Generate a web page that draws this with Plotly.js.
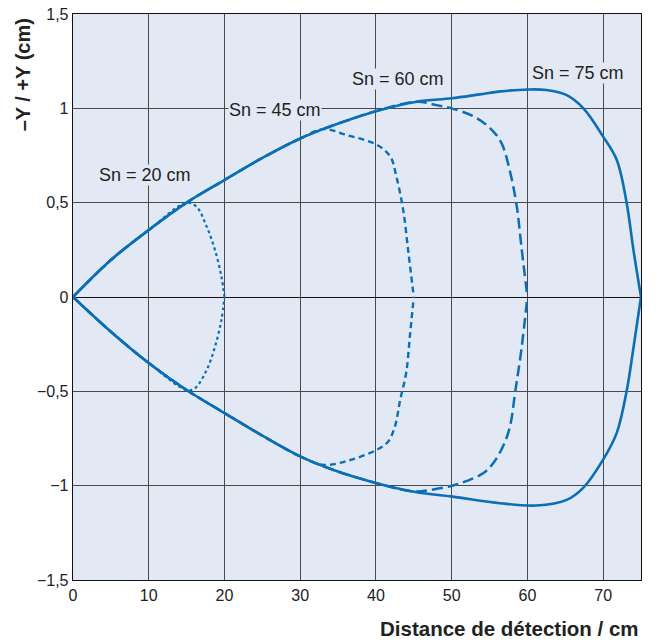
<!DOCTYPE html>
<html>
<head>
<meta charset="utf-8">
<script src="https://cdn.plot.ly/plotly-3.0.1.min.js"></script>
<style>html,body{margin:0;padding:0;background:#fff;}#chart{width:659px;height:642px;}</style>
</head>
<body>
<div id="chart"></div>
<script>
// Sn = 75 cm (solid)
const sn75_upper_x = [0, 5, 10, 15, 20, 25, 30, 33, 36.5, 40, 45.4, 50, 53.7, 56.5, 60.1, 62.5, 65.2, 67.4, 70, 71.8, 73.1, 74, 75];
const sn75_upper_y = [0, 0.196, 0.355, 0.5, 0.62, 0.737, 0.84, 0.89, 0.94, 0.985, 1.035, 1.053, 1.074, 1.09, 1.10, 1.097, 1.07, 1.0, 0.85, 0.726, 0.5, 0.25, 0];
const sn75_lower_x = [0, 5, 10, 15, 20, 25, 30, 34.4, 40.1, 45.4, 50.1, 56.4, 61.2, 65.2, 67.4, 70, 71.8, 73.1, 74, 75];
const sn75_lower_y = [0, -0.184, -0.35, -0.493, -0.615, -0.735, -0.845, -0.917, -0.987, -1.035, -1.058, -1.093, -1.105, -1.075, -1.01, -0.862, -0.72, -0.5, -0.27, 0];
// Sn = 60 cm (long dashes)
const sn60_upper_x = [0, 5, 10, 15, 20, 25, 30, 33, 36.5, 40, 45.4, 48, 50, 52.9, 55.1, 56.6, 57.7, 58.6, 59.2, 60];
const sn60_upper_y = [0, 0.196, 0.355, 0.5, 0.62, 0.737, 0.84, 0.89, 0.94, 0.985, 1.035, 1.017, 1.0, 0.957, 0.894, 0.814, 0.665, 0.48, 0.27, 0];
const sn60_lower_x = [0, 5, 10, 15, 20, 25, 30, 34.4, 40.1, 44.9, 47.6, 50.1, 52, 54.2, 55.5, 56.8, 57.7, 58.4, 59.2, 60];
const sn60_lower_y = [0, -0.184, -0.35, -0.493, -0.615, -0.735, -0.845, -0.917, -0.987, -1.03, -1.02, -1.0, -0.975, -0.933, -0.88, -0.79, -0.686, -0.5, -0.28, 0];
// Sn = 45 cm (short dashes)
const sn45_upper_x = [0, 5, 10, 15, 20, 25, 30, 33, 36.1, 40.1, 41.9, 42.7, 43.6, 44.3, 45];
const sn45_upper_y = [0, 0.196, 0.355, 0.5, 0.62, 0.737, 0.84, 0.89, 0.859, 0.807, 0.744, 0.638, 0.461, 0.232, 0];
const sn45_lower_x = [0, 5, 10, 15, 20, 25, 30, 33.1, 36.6, 40.1, 41.6, 42.5, 43.2, 44.0, 44.5, 45];
const sn45_lower_y = [0, -0.184, -0.35, -0.493, -0.615, -0.735, -0.845, -0.89, -0.864, -0.81, -0.767, -0.687, -0.546, -0.40, -0.2, 0];
// Sn = 20 cm (dotted)
const sn20_upper_x = [0, 5, 10, 15, 16.3, 17.65, 18.75, 19.6, 20];
const sn20_upper_y = [0, 0.196, 0.355, 0.5, 0.479, 0.373, 0.249, 0.108, 0];
const sn20_lower_x = [0, 5, 10, 15, 16.1, 17.65, 18.75, 19.6, 20];
const sn20_lower_y = [0, -0.184, -0.35, -0.493, -0.484, -0.387, -0.263, -0.122, 0];

const curve_labels = ["Sn = 20 cm", "Sn = 45 cm", "Sn = 60 cm", "Sn = 75 cm"];
const label_x = [9.5, 26.7, 42.9, 66.7];
const label_y = [0.646, 0.99, 1.155, 1.187];

const x_tickvals = [0, 10, 20, 30, 40, 50, 60, 70];
const x_ticktext = ["0", "10", "20", "30", "40", "50", "60", "70"];
const y_tickvals = [1.5, 1, 0.5, 0, -0.5, -1, -1.5];
const y_ticktext = ["1,5", "1", "0,5", "0", "\u22120,5", "\u22121", "\u22121,5"];

const C = "#0a6fb5";
const BG = "#e2e9f5";
const FONT = "Liberation Sans, Arial, sans-serif";
function tr(x, y, dash, w) {
  return {x: x, y: y, type: "scatter", mode: "lines", hoverinfo: "skip",
    line: {color: C, width: w, dash: dash, shape: "spline", smoothing: 1}, showlegend: false};
}
const data = [
  tr(sn20_upper_x, sn20_upper_y, "3px,3px", 2.2),
  tr(sn20_lower_x, sn20_lower_y, "3px,3px", 2.2),
  tr(sn45_upper_x, sn45_upper_y, "6px,4px", 2.4),
  tr(sn45_lower_x, sn45_lower_y, "6px,4px", 2.4),
  tr(sn60_upper_x, sn60_upper_y, "11px,5px", 2.5),
  tr(sn60_lower_x, sn60_lower_y, "11px,5px", 2.5),
  tr(sn75_upper_x, sn75_upper_y, "solid", 2.6),
  tr(sn75_lower_x, sn75_lower_y, "solid", 2.6)
];

const annotations = curve_labels.map((t, i) => ({
  x: label_x[i], y: label_y[i], xref: "x", yref: "y", text: t, showarrow: false,
  font: {family: FONT, size: 18, color: "#222"},
  bgcolor: BG, borderpad: 0
}));
annotations.push({
  xref: "paper", yref: "paper", x: 1.0, y: -0.062, xanchor: "right", yanchor: "top",
  text: "<b>Distance de détection / cm</b>", showarrow: false,
  font: {family: FONT, size: 20.5, color: "#222"}
});
annotations.push({
  xref: "paper", yref: "paper", x: -0.088, y: 0.995, xanchor: "center", yanchor: "top",
  textangle: -90, text: "<b>\u2013Y / +Y (cm)</b>", showarrow: false,
  font: {family: FONT, size: 20, color: "#222"}
});

const layout = {
  width: 659, height: 642,
  margin: {l: 73, r: 18, t: 14, b: 62},
  paper_bgcolor: "#ffffff", plot_bgcolor: BG,
  font: {family: FONT, size: 16, color: "#222"},
  xaxis: {range: [0, 75], tickvals: x_tickvals, ticktext: x_ticktext, showgrid: true,
    gridcolor: "#4a4a4a", gridwidth: 1, zeroline: false, showline: true, linecolor: "#111",
    linewidth: 1.3, mirror: true, ticks: "", fixedrange: true},
  yaxis: {range: [-1.5, 1.5], tickvals: y_tickvals, ticktext: y_ticktext, showgrid: true,
    gridcolor: "#4a4a4a", gridwidth: 1, zeroline: true, zerolinecolor: "#111", zerolinewidth: 1,
    showline: true, linecolor: "#111", linewidth: 1.3, mirror: true, ticks: "", fixedrange: true},
  annotations: annotations,
  showlegend: false
};
Plotly.newPlot("chart", data, layout, {staticPlot: true, displayModeBar: false});
</script>
</body>
</html>
